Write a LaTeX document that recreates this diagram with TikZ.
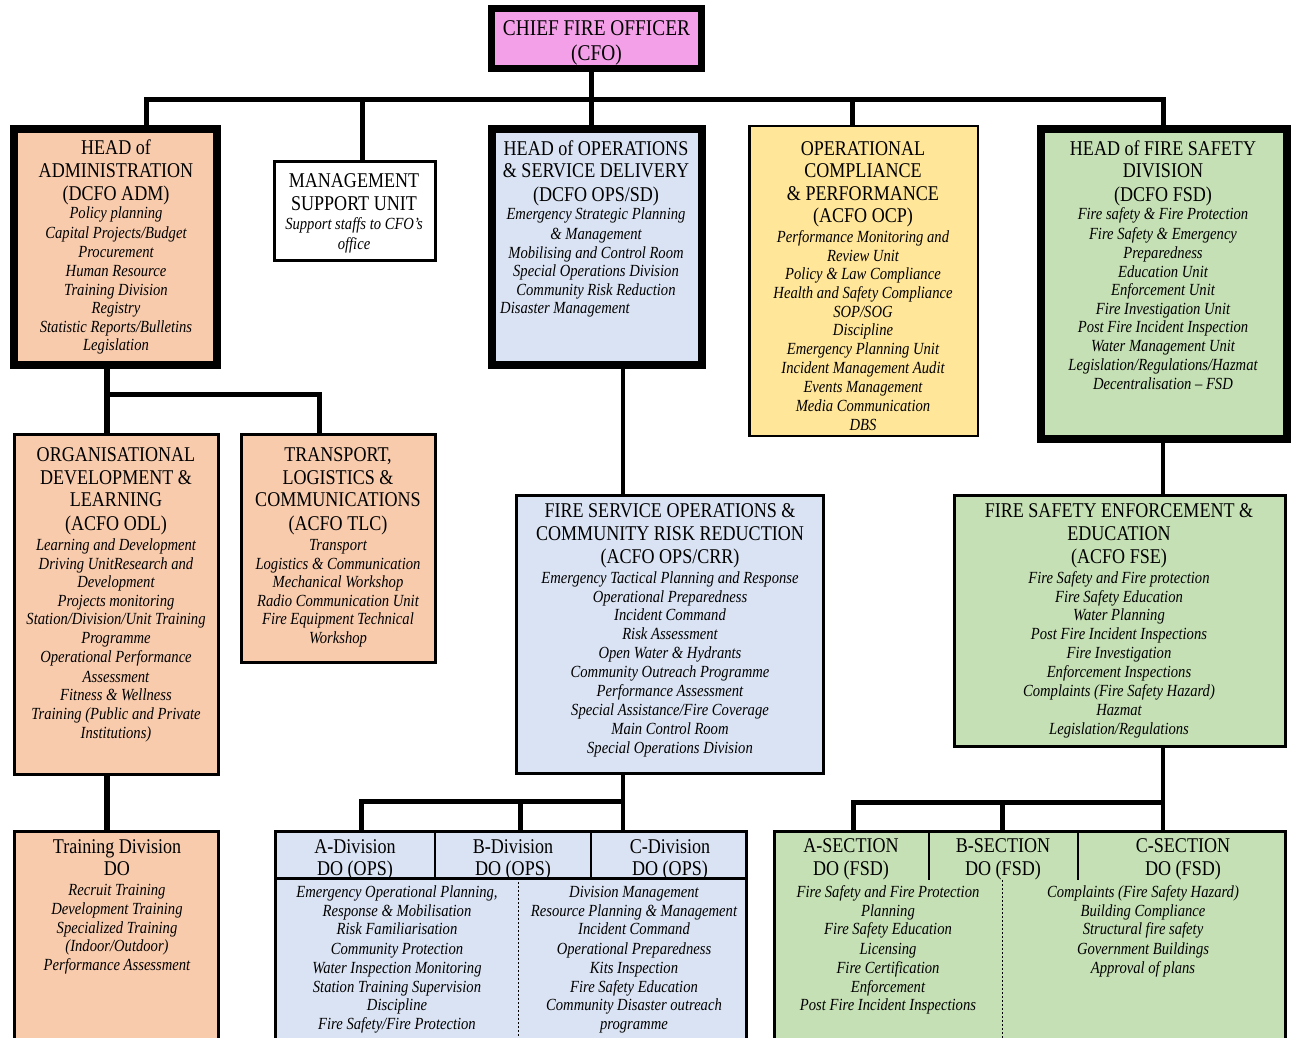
\documentclass[tikz,border=0pt]{standalone}
\usepackage{fontspec}
\newfontfamily\cfont{Liberation Serif}[FakeStretch=0.86]
\definecolor{cfopink}{RGB}{244,160,232}
\definecolor{peach}{RGB}{248,203,173}
\definecolor{lblue}{RGB}{218,227,243}
\definecolor{lyellow}{RGB}{255,230,153}
\definecolor{lgreen}{RGB}{197,224,180}
\newcommand\txtlines[4]{%
  \foreach \yy/\lt [count=\ii] in {#4}{\node[#3] (#1-\ii) at (#2,\yy) {\lt};}}
\tikzset{
  bx/.style={draw=black, rectangle, inner sep=0pt, outer sep=0pt, line width=3pt},
  hv/.style={bx, line width=8pt},
  conn/.style={draw=black, line width=5pt, line join=miter},
  ttl/.style={font=\cfont\fontsize{21}{23}\selectfont, inner sep=0pt, text height=13.9pt, text depth=0pt, yshift=-1.5pt},
  bigttl/.style={font=\cfont\fontsize{22.5}{25}\selectfont, inner sep=0pt, text height=14.9pt, text depth=0pt, yshift=-1pt},
  itl/.style={font=\cfont\itshape\fontsize{17}{19}\selectfont, inner sep=0pt, text height=7.6pt, text depth=0pt, yshift=-2.5pt},
  sep/.style={draw=black, line width=2pt},
  dsep/.style={draw=black, line width=1pt, dash pattern=on 2pt off 2pt},
}
\begin{document}
\begin{tikzpicture}[x=1pt,y=-1pt]
\clip (0,0) rectangle (1291,1038);
\fill[white] (0,0) rectangle (1291,1038);

% ---------- boxes ----------
\node[hv, line width=7pt, fill=cfopink, minimum width=210pt, minimum height=60pt] (cfo) at (596.5,38.5) {};
\node[hv, fill=peach, minimum width=203pt, minimum height=236pt] (adm) at (115.5,247) {};
\node[bx, fill=white, minimum width=161pt, minimum height=99pt] (msu) at (355,211) {};
\node[hv, fill=lblue, minimum width=210pt, minimum height=236pt] (ops) at (597,247) {};
\node[bx, line width=2.5pt, fill=lyellow, minimum width=228.5pt, minimum height=309.5pt] (ocp) at (863.5,281) {};
\node[hv, fill=lgreen, minimum width=246pt, minimum height=310pt] (fsd) at (1164,284) {};
\node[bx, fill=peach, minimum width=204pt, minimum height=340pt] (odl) at (116.5,604.5) {};
\node[bx, fill=peach, minimum width=194pt, minimum height=228pt] (tlc) at (338.5,548.5) {};
\node[bx, fill=lblue, minimum width=307pt, minimum height=278pt] (crr) at (670,634.5) {};
\node[bx, fill=lgreen, minimum width=331pt, minimum height=251pt] (fse) at (1120,621) {};
\node[bx, fill=peach, minimum width=204pt, minimum height=227pt] (trn) at (116.5,945) {};
\node[bx, fill=lblue, minimum width=471pt, minimum height=227pt] (divs) at (511,945) {};
\node[bx, fill=lgreen, minimum width=511pt, minimum height=227pt] (secs) at (1030,945) {};

% ---------- connectors ----------
\coordinate (busL) at (146.5,99.5);
\coordinate (busR) at (1163,99.5);
\coordinate (dMSU) at (362,99.5);
\coordinate (dOPS) at (591,99.5);
\coordinate (dOCP) at (852,99.5);
\draw[conn] (busL |- adm.north) -- (busL) -- (busR) -- (busR |- fsd.north);
\draw[conn] (dOPS |- cfo.south) -- (dOPS |- ops.north);
\draw[conn] (dMSU) -- (dMSU |- msu.north);
\draw[conn] (dOCP) -- (dOCP |- ocp.north);

\coordinate (aX) at (106.5,394.5);
\coordinate (tX) at (319.5,394.5);
\draw[conn, line width=6pt] (aX |- adm.south) -- (aX |- odl.north);
\draw[conn, line width=4.5pt] (aX) -- (tX) -- (tX |- tlc.north);
\draw[conn, line width=6pt] (aX |- odl.south) -- (aX |- trn.north);

\coordinate (cB) at (623,801.5);
\coordinate (cA) at (361.5,801.5);
\coordinate (cM) at (520,801.5);
\draw[conn, line width=4.5pt] (cB |- ops.south) -- (cB |- crr.north);
\draw[conn, line width=4.5pt] (cB |- crr.south) -- (cB |- divs.north);
\draw[conn] (cA |- divs.north) -- (cA) -- (cB);
\draw[conn] (cM) -- (cM |- divs.north);

\coordinate (fX) at (1163,802.5);
\coordinate (sA) at (853,802.5);
\coordinate (sB) at (1002,802.5);
\draw[conn, line width=4.5pt] (fX |- fsd.south) -- (fX |- fse.north);
\draw[conn, line width=4.5pt] (fX |- fse.south) -- (fX |- secs.north);
\draw[conn] (sA |- secs.north) -- (sA) -- (fX);
\draw[conn] (sB) -- (sB |- secs.north);

% ---------- inner separators ----------
\coordinate (dh) at (0,878);
\coordinate (dv1) at (435,0);
\coordinate (dv2) at (591,0);
\coordinate (dd) at (518,0);
\draw[line width=3pt] (divs.west |- dh) -- (divs.east |- dh);
\draw[sep] (dv1 |- divs.north) -- (dv1 |- dh);
\draw[sep] (dv2 |- divs.north) -- (dv2 |- dh);
\draw[dsep] (dd |- dh) -- (dd |- divs.south);

\coordinate (sh) at (0,880);
\coordinate (sv1) at (929,0);
\coordinate (sv2) at (1078,0);
\coordinate (sd) at (1002,0);
\draw[sep] (sv1 |- secs.north) -- (sv1 |- sh);
\draw[sep] (sv2 |- secs.north) -- (sv2 |- sh);
\draw[dsep] (sd |- sh) -- (sd |- secs.south);

% ---------- texts ----------
\txtlines{cfot}{596.5}{bigttl}{27/{CHIEF FIRE OFFICER}, 52/{(CFO)}}

\txtlines{admt}{116}{ttl}{146/{HEAD of}, 169/{ADMINISTRATION}, 192/{(DCFO ADM)}}
\txtlines{admi}{116}{itl}{212/{Policy planning}, 232/{Capital Projects/Budget}, 251/{Procurement}, 270/{Human Resource}, 289/{Training Division}, 307/{Registry}, 326/{Statistic Reports/Bulletins}, 344/{Legislation}}

\txtlines{msut}{354}{ttl}{179/{MANAGEMENT}, 202/{SUPPORT UNIT}}
\txtlines{msui}{354}{itl}{223/{Support staffs to CFO’s}, 243/{office}}

\txtlines{opst}{596}{ttl}{147/{HEAD of OPERATIONS}, 169/{\& SERVICE DELIVERY}, 193/{(DCFO OPS/SD)}}
\txtlines{opsi}{596}{itl}{213/{Emergency Strategic Planning}, 233/{\& Management}, 252/{Mobilising and Control Room}, 270/{Special Operations Division}, 289/{Community Risk Reduction}}
\node[itl, anchor=west] (opsdm) at (500,307) {Disaster Management};

\txtlines{ocpt}{863}{ttl}{147/{OPERATIONAL}, 169/{COMPLIANCE}, 192/{\& PERFORMANCE}, 214/{(ACFO OCP)}}
\txtlines{ocpi}{863}{itl}{236/{Performance Monitoring and}, 255/{Review Unit}, 273/{Policy \& Law Compliance}, 292/{Health and Safety Compliance}, 311/{SOP/SOG}, 329/{Discipline}, 348/{Emergency Planning Unit}, 367/{Incident Management Audit}, 386/{Events Management}, 405/{Media Communication}, 424/{DBS}}

\txtlines{fsdt}{1163}{ttl}{147/{HEAD of FIRE SAFETY}, 169/{DIVISION}, 193/{(DCFO FSD)}}
\txtlines{fsdi}{1163}{itl}{213/{Fire safety \& Fire Protection}, 233/{Fire Safety \& Emergency}, 252/{Preparedness}, 271/{Education Unit}, 289/{Enforcement Unit}, 308/{Fire Investigation Unit}, 326/{Post Fire Incident Inspection}, 345/{Water Management Unit}, 364/{Legislation/Regulations/Hazmat}, 383/{Decentralisation – FSD}}

\txtlines{odlt}{116}{ttl}{453/{ORGANISATIONAL}, 476/{DEVELOPMENT \&}, 498/{LEARNING}, 522/{(ACFO ODL)}}
\txtlines{odli}{116}{itl}{544/{Learning and Development}, 563/{Driving UnitResearch and}, 581/{Development}, 600/{Projects monitoring}, 618/{Station/Division/Unit Training}, 637/{Programme}, 656/{Operational Performance}, 676/{Assessment}, 694/{Fitness \& Wellness}, 713/{Training (Public and Private}, 732/{Institutions)}}

\txtlines{tlct}{338}{ttl}{453/{TRANSPORT,}, 476/{LOGISTICS \&}, 498/{COMMUNICATIONS}, 522/{(ACFO TLC)}}
\txtlines{tlci}{338}{itl}{544/{Transport}, 563/{Logistics \& Communication}, 581/{Mechanical Workshop}, 600/{Radio Communication Unit}, 618/{Fire Equipment Technical}, 637/{Workshop}}

\txtlines{crrt}{670}{ttl}{509/{FIRE SERVICE OPERATIONS \&}, 532/{COMMUNITY RISK REDUCTION}, 555/{(ACFO OPS/CRR)}}
\txtlines{crri}{670}{itl}{577/{Emergency Tactical Planning and Response}, 596/{Operational Preparedness}, 614/{Incident Command}, 633/{Risk Assessment}, 652/{Open Water \& Hydrants}, 671/{Community Outreach Programme}, 690/{Performance Assessment}, 709/{Special Assistance/Fire Coverage}, 728/{Main Control Room}, 747/{Special Operations Division}}

\txtlines{fset}{1119}{ttl}{509/{FIRE SAFETY ENFORCEMENT \&}, 532/{EDUCATION}, 555/{(ACFO FSE)}}
\txtlines{fsei}{1119}{itl}{577/{Fire Safety and Fire protection}, 596/{Fire Safety Education}, 614/{Water Planning}, 633/{Post Fire Incident Inspections}, 652/{Fire Investigation}, 671/{Enforcement Inspections}, 690/{Complaints (Fire Safety Hazard)}, 709/{Hazmat}, 728/{Legislation/Regulations}}

\txtlines{trnt}{117}{ttl}{845/{Training Division}, 867/{DO}}
\txtlines{trni}{117}{itl}{889/{Recruit Training}, 908/{Development Training}, 927/{Specialized Training}, 945/{(Indoor/Outdoor)}, 964/{Performance Assessment}}

\txtlines{dat}{355}{ttl}{845/{A-Division}, 867/{DO (OPS)}}
\txtlines{dbt}{513}{ttl}{845/{B-Division}, 867/{DO (OPS)}}
\txtlines{dct}{670}{ttl}{845/{C-Division}, 867/{DO (OPS)}}
\txtlines{dli}{397}{itl}{891/{Emergency Operational Planning,}, 910/{Response \& Mobilisation}, 928/{Risk Familiarisation}, 948/{Community Protection}, 967/{Water Inspection Monitoring}, 986/{Station Training Supervision}, 1004/{Discipline}, 1023/{Fire Safety/Fire Protection}}
\txtlines{dri}{634}{itl}{891/{Division Management}, 910/{Resource Planning \& Management}, 928/{Incident Command}, 948/{Operational Preparedness}, 967/{Kits Inspection}, 986/{Fire Safety Education}, 1004/{Community Disaster outreach}, 1023/{programme}}

\txtlines{sat}{851}{ttl}{844/{A-SECTION}, 867/{DO (FSD)}}
\txtlines{sbt}{1003}{ttl}{844/{B-SECTION}, 867/{DO (FSD)}}
\txtlines{sct}{1183}{ttl}{844/{C-SECTION}, 867/{DO (FSD)}}
\txtlines{sli}{888}{itl}{891/{Fire Safety and Fire Protection}, 910/{Planning}, 928/{Fire Safety Education}, 948/{Licensing}, 967/{Fire Certification}, 986/{Enforcement}, 1004/{Post Fire Incident Inspections}}
\txtlines{sri}{1143}{itl}{891/{Complaints (Fire Safety Hazard)}, 910/{Building Compliance}, 928/{Structural fire safety}, 948/{Government Buildings}, 967/{Approval of plans}}
\end{tikzpicture}
\end{document}
